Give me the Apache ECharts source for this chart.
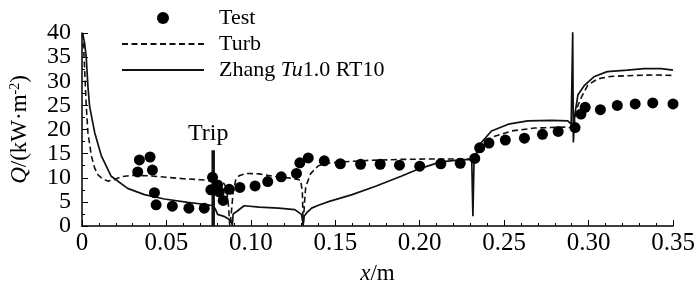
<!DOCTYPE html>
<html>
<head>
<meta charset="utf-8">
<script src="https://cdn.jsdelivr.net/npm/echarts@6/dist/echarts.min.js"></script>
<style>
  html, body { margin: 0; padding: 0; background: #fff; }
  #chart { width: 700px; height: 290px; }
</style>
</head>
<body>
<div id="chart"></div>
<script>
(function () {
  "use strict";
  const chart = echarts.init(document.getElementById("chart"));
  const FONT = "'Liberation Serif', 'DejaVu Serif', serif";

  // 读图估计的数据 (x/m, Q/kW·m-2)
  const X_TICKS = [0, 0.05, 0.10, 0.15, 0.20, 0.25, 0.30, 0.35];
  const SERIES_NAMES = ["Test", "Turb", "Zhang Tu1.0 RT10"];

  const testPoints = [
    [0.033, 11.2], [0.034, 13.7], [0.0403, 14.3], [0.0417, 11.6], [0.0429, 6.9],
    [0.0439, 4.4], [0.0535, 4.1], [0.0633, 3.7], [0.0724, 3.7], [0.0773, 10.1],
    [0.0763, 7.5], [0.0803, 8.5], [0.0813, 7.1], [0.0836, 5.3], [0.0872, 7.6],
    [0.0935, 8.0], [0.1025, 8.3], [0.110, 9.2], [0.118, 10.2], [0.127, 10.9],
    [0.129, 13.1], [0.134, 14.1], [0.1435, 13.5], [0.153, 12.9], [0.165, 12.8],
    [0.1766, 12.8], [0.188, 12.6], [0.200, 12.4], [0.2125, 12.9], [0.224, 13.0],
    [0.2326, 14.0], [0.2355, 16.2], [0.241, 17.2], [0.2507, 17.8], [0.262, 18.2],
    [0.2727, 19.0], [0.282, 19.6], [0.292, 20.4], [0.2955, 23.2], [0.298, 24.6],
    [0.307, 24.1], [0.317, 25.0], [0.3276, 25.3], [0.338, 25.5], [0.350, 25.3]
  ];

  const turbPoints = [
    [0.0005, 40], [0.0015, 33], [0.0025, 25], [0.0035, 19.4], [0.0055, 14.6],
    [0.0075, 12], [0.0095, 10.6], [0.012, 9.8], [0.0153, 9.3], [0.019, 9.6],
    [0.0232, 10.2], [0.03, 10.5], [0.04, 10.4], [0.05, 10.1], [0.06, 9.8],
    [0.07, 9.6], [0.0765, 9.4], [0.0785, 9.0], [0.081, 8.5], [0.083, 9.3],
    [0.0855, 8.0], [0.0868, 4.0], [0.0875, 0], [0.0885, 3.0], [0.0895, 7.0],
    [0.091, 9.5], [0.093, 10.4], [0.097, 10.9], [0.105, 10.8], [0.115, 10.2],
    [0.1245, 9.9], [0.1295, 9.5], [0.1305, 7.0], [0.131, 0], [0.1318, 5.0],
    [0.1325, 8.2], [0.1355, 10.9], [0.140, 12.5], [0.145, 13.0], [0.154, 13.3],
    [0.170, 13.6], [0.189, 13.8], [0.2085, 13.9], [0.2285, 13.9], [0.2315, 13.8],
    [0.2326, 14.3], [0.2345, 15.6], [0.2365, 16.7], [0.2425, 18.4], [0.2545, 19.7],
    [0.268, 20.3], [0.286, 20.5], [0.289, 20.4], [0.2905, 19.8], [0.2915, 21.5],
    [0.2927, 24.1], [0.2955, 26.5], [0.2995, 29.2], [0.3055, 30.5], [0.313, 31.0],
    [0.327, 31.2], [0.339, 31.3], [0.350, 31.2]
  ];

  const zhangPoints = [
    [0.0003, 40], [0.0015, 38], [0.0025, 35], [0.0035, 29], [0.0045, 24.8],
    [0.0075, 19.4], [0.0114, 14.6], [0.0173, 10.3], [0.027, 7.8], [0.037, 6.5],
    [0.0488, 5.6], [0.0626, 4.9], [0.0744, 4.4], [0.0777, 4.2], [0.079, 3.5],
    [0.0803, 2.4], [0.084, 2.0], [0.087, 1.4], [0.0885, 1.2], [0.089, 0],
    [0.0895, 2.5], [0.090, 2.9], [0.092, 3.1], [0.096, 4.2], [0.105, 3.9],
    [0.1165, 3.7], [0.126, 3.4], [0.130, 2.4], [0.131, 0.2], [0.1315, 2.0],
    [0.133, 2.7], [0.136, 3.7], [0.140, 4.3], [0.1465, 5.1], [0.160, 6.5],
    [0.1735, 8.2], [0.189, 10.3], [0.200, 11.9], [0.2125, 13.3], [0.224, 13.7],
    [0.2308, 13.8], [0.2315, 2.0], [0.2322, 14.2], [0.2335, 15.0], [0.2365, 17.3],
    [0.2425, 19.7], [0.2525, 21.1], [0.264, 21.8], [0.278, 21.9], [0.2877, 21.8],
    [0.2897, 21.1], [0.2906, 40.2], [0.291, 17.3], [0.2918, 23.0], [0.2937, 27.2],
    [0.2977, 29.2], [0.3035, 31.0], [0.311, 32.0], [0.323, 32.3], [0.333, 32.6],
    [0.343, 32.6], [0.350, 32.3]
  ];

  const tripLine = [[0.0777, 0], [0.0777, 15.7]];

  const fmtX = v => (v === 0 ? "0" : v.toFixed(2));

  chart.setOption({
    animation: false,
    textStyle: { fontFamily: FONT, color: "#000" },
    legend: {
      data: [
        { name: SERIES_NAMES[0] },
        { name: SERIES_NAMES[1], itemStyle: { opacity: 0 } },
        { name: SERIES_NAMES[2], itemStyle: { opacity: 0 } }
      ],
      orient: "vertical",
      left: 116,
      top: 2,
      itemWidth: 82,
      itemHeight: 12,
      itemGap: 4,
      textStyle: { fontFamily: FONT, fontSize: 22, color: "#000", lineHeight: 21, padding: [0, 0, 0, 10],
        rich: { i: { fontFamily: FONT, fontSize: 22, fontStyle: "italic" } } },
      formatter: n => (n === "Zhang Tu1.0 RT10" ? "Zhang {i|Tu}1.0 RT10" : n)
    },
    grid: { left: 79, right: 27, top: 33, bottom: 60 },
    xAxis: {
      type: "value",
      min: 0, max: 0.35, interval: 0.05,
      name: "{i|x}/m",
      nameLocation: "middle",
      nameGap: 36,
      nameTextStyle: { fontFamily: FONT, fontSize: 23, color: "#000",
        rich: { i: { fontFamily: FONT, fontSize: 23, fontStyle: "italic" } } },
      axisLine: { lineStyle: { color: "#000", width: 1.5 } },
      axisTick: { inside: true, length: 6, lineStyle: { color: "#000" } },
      minorTick: { show: true, splitNumber: 5, length: 3, lineStyle: { color: "#000" } },
      splitLine: { show: false },
      axisLabel: { fontFamily: FONT, fontSize: 25, color: "#000", margin: 5,
        formatter: v => fmtX(X_TICKS.reduce((a, b) => (Math.abs(b - v) < Math.abs(a - v) ? b : a))) }
    },
    yAxis: {
      type: "value",
      min: 0, max: 40, interval: 5,
      name: "{i|Q}/(kW·m{s|-2})",
      nameLocation: "middle",
      nameGap: 50,
      nameTextStyle: { fontFamily: FONT, fontSize: 23, color: "#000",
        rich: {
          i: { fontFamily: FONT, fontSize: 23, fontStyle: "italic" },
          s: { fontFamily: FONT, fontSize: 14, verticalAlign: "top", padding: [0, 0, 10, 0] }
        } },
      axisLine: { show: true, lineStyle: { color: "#000", width: 1.5 } },
      axisTick: { show: true, inside: true, length: 6, lineStyle: { color: "#000" } },
      minorTick: { show: true, splitNumber: 2, length: 3, lineStyle: { color: "#000" } },
      splitLine: { show: false },
      axisLabel: { fontFamily: FONT, fontSize: 24, color: "#000", margin: 11 }
    },
    graphic: [{
      type: "text", left: 188, top: 122,
      style: { text: "Trip", font: "24px " + FONT, fill: "#000" }
    }],
    series: [
      {
        name: "Test", type: "scatter", data: testPoints,
        symbol: "circle", symbolSize: 11, itemStyle: { color: "#000", opacity: 1 }, z: 3
      },
      {
        name: "Turb", type: "line", data: turbPoints,
        symbol: "none", showSymbol: false,
        lineStyle: { color: "#111", width: 1.6, type: [6, 3.5] }, itemStyle: { color: "#111" }
      },
      {
        name: "Zhang Tu1.0 RT10", type: "line", data: zhangPoints,
        symbol: "none", showSymbol: false,
        lineStyle: { color: "#111", width: 1.7 }, itemStyle: { color: "#111" }
      },
      {
        name: "trip", type: "line", data: tripLine,
        symbol: "none", showSymbol: false,
        lineStyle: { color: "#111", width: 3.5 }
      }
    ]
  });

  window.addEventListener("resize", () => chart.resize());
})();
</script>
</body>
</html>
